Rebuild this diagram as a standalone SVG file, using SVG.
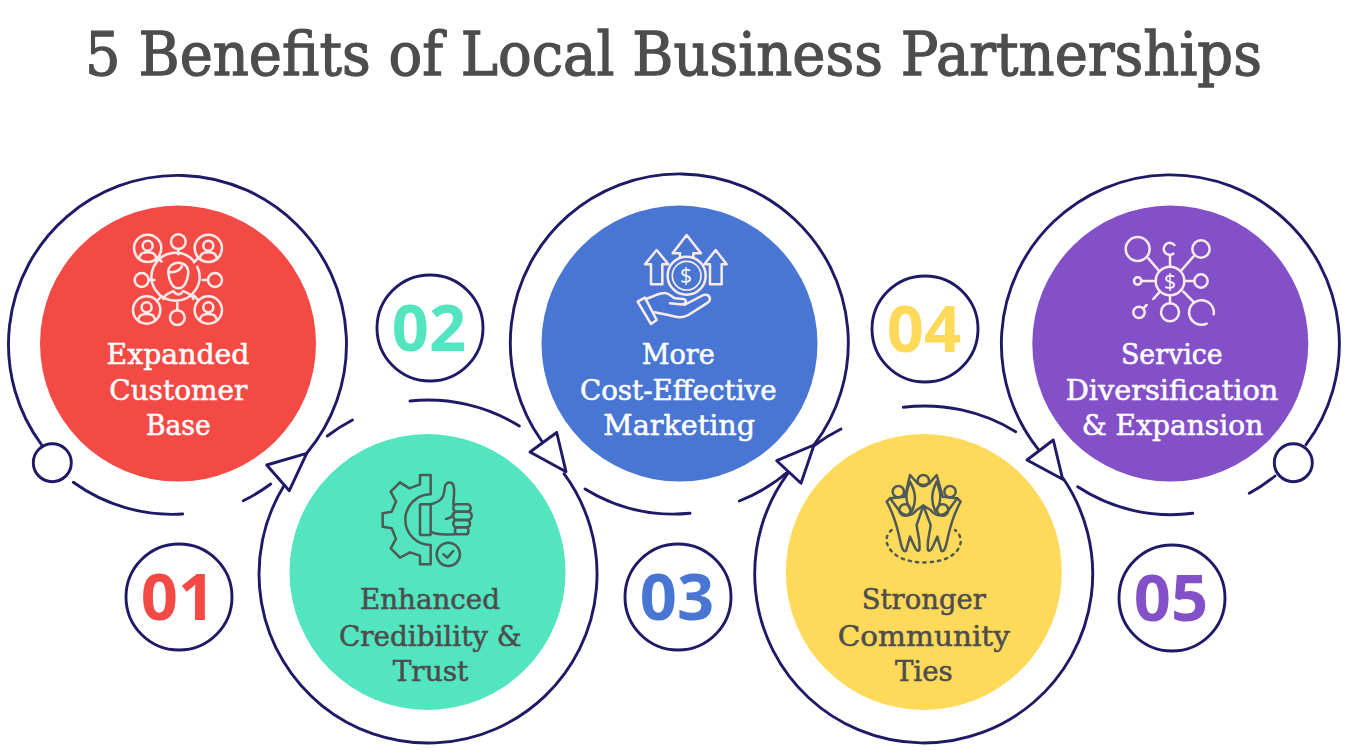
<svg xmlns="http://www.w3.org/2000/svg" width="1364" height="753" viewBox="0 0 1364 753">
<style>
.title{font-family:"DejaVu Serif","Liberation Serif",serif;font-size:60px;fill:#4d4d4d;stroke:#4d4d4d;stroke-width:1.3}
.lb{font-family:"DejaVu Serif","Liberation Serif",serif;font-size:28px;text-anchor:middle;stroke-width:.55}
.w{fill:#fff;stroke:#fff}.d{fill:#4d4d4d;stroke:#4d4d4d}
.num{font-family:"Open Sans","Noto Sans",sans-serif;font-weight:700;font-size:65px;text-anchor:middle}
.rg{fill:none;stroke:#1f1a66;stroke-width:2.9;stroke-linecap:round}
.tri{fill:#fff;stroke:#1f1a66;stroke-width:2.9;stroke-linejoin:round}
.nc{fill:#fff;stroke:#1f1a66;stroke-width:2.9}
.iw{fill:none;stroke:#fbecea;stroke-width:7.5;stroke-linecap:round;stroke-linejoin:round}
.id{fill:none;stroke:#4d5a55;stroke-width:7.5;stroke-linecap:round;stroke-linejoin:round}
.ds{font-family:"Open Sans",sans-serif;font-size:21px;text-anchor:middle;fill:#fff}
</style>
<text class="title" x="85" y="75" textLength="1177" lengthAdjust="spacingAndGlyphs">5 Benefits of Local Business Partnerships</text>

<g id="connectors" class="rg">
<path d="M41.7 445A169 169 0 1 1 306.7 453.3"/>
<path d="M73.3 482.3A169 169 0 0 0 182.7 514"/>
<path d="M243.3 500.7A169 169 0 0 0 270.7 484"/>
<path d="M284.1 485.5A169 169 0 1 0 564 473.7"/>
<path d="M327.3 436A169 169 0 0 1 352.5 420"/>
<path d="M410 401A174 174 0 0 1 519.3 426"/>
<path d="M541.7 441A169 169 0 1 1 814 445"/>
<path d="M585 489A170 170 0 0 0 690 513.3"/>
<path d="M739.3 501A169 169 0 0 0 790 470"/>
<path d="M787.5 473.9A169 169 0 1 0 1063.4 478.8"/>
<path d="M815 445A169 169 0 0 1 841 429"/>
<path d="M903.3 407.3A174 174 0 0 1 1015.7 431.7"/>
<path d="M1038.3 449.3A169 169 0 1 1 1306 444.7"/>
<path d="M1077.7 486.7A170 170 0 0 0 1192.7 513.3"/>
<path d="M1249.3 493.3A169 169 0 0 0 1275 476"/>
<polygon class="tri" points="306.7,453.3 266.7,465 289.3,490.7"/>
<polygon class="tri" points="556.7,432.5 530,452 566,471.7"/>
<polygon class="tri" points="814,445 776.7,460.7 801,483.3"/>
<polygon class="tri" points="1053.3,440 1027,460 1062.7,479.3"/>
<circle class="nc" cx="52.3" cy="462.7" r="19"/>
<circle class="nc" cx="1293.3" cy="462.7" r="19"/>
</g>

<g id="node-1">
<circle cx="178" cy="343.6" r="138" fill="#f44a45"/>
<g class="iw" transform="translate(120 225) scale(.3333)">
<path d="M221 108A72 72 0 1 0 232 125"/>
<circle cx="175" cy="50" r="22"/><path d="M175 72V88"/>
<circle cx="65" cy="165" r="21"/><path d="M86 165H103"/>
<circle cx="285" cy="165" r="21"/><path d="M264 165H248"/>
<circle cx="172" cy="278" r="22"/><path d="M172 256V234"/>
<circle cx="83" cy="70" r="41"/><circle cx="265" cy="70" r="41"/><circle cx="80" cy="255" r="41"/><circle cx="265" cy="255" r="41"/>
<path d="M112 98L125 110M236 98L222 112M112 226L125 214M235 226L222 212"/>
<circle cx="83" cy="62" r="15"/><path d="M58 98C60 84 72 82 83 82S106 84 108 98"/>
<circle cx="265" cy="62" r="15"/><path d="M240 98C242 84 254 82 265 82S288 84 290 98"/>
<circle cx="80" cy="247" r="15"/><path d="M55 283C57 269 69 267 80 267S103 269 105 283"/>
<circle cx="265" cy="247" r="15"/><path d="M240 283C242 269 254 267 265 267S288 269 290 283"/>
<path d="M146 150C140 120 165 112 180 114C198 116 208 130 204 150C202 170 192 190 175 190C158 190 148 170 146 150ZM150 142C165 142 180 135 186 124"/>
<path d="M130 222C135 205 150 205 160 198C168 212 182 212 190 198C200 205 215 205 220 222"/>
</g>
<text class="lb w" x="178" y="364.3" textLength="143" lengthAdjust="spacingAndGlyphs">Expanded</text>
<text class="lb w" x="178.3" y="400" textLength="138" lengthAdjust="spacingAndGlyphs">Customer</text>
<text class="lb w" x="178.3" y="435" textLength="64.7" lengthAdjust="spacingAndGlyphs">Base</text>
<circle class="nc" cx="179" cy="597" r="53"/>
<text class="num" x="178" y="620" fill="#f44a45">01</text>
</g>

<g id="node-2">
<circle cx="427.5" cy="572" r="138" fill="#52e5bf"/>
<g class="id" transform="translate(370 465) scale(.3333)">
<path d="M182 30H150V58L118 70L90 52L62 80L78 110L65 140L38 145V185L65 190L78 222L62 250L90 278L120 262L150 272V298H182V240A76 76 0 0 1 182 88Z"/>
<rect x="150" y="118" width="32" height="92" rx="4"/>
<path d="M182 118C205 112 222 105 224 70C226 48 250 45 252 70C254 90 250 105 250 118"/>
<rect x="250" y="118" width="52" height="22" rx="10"/><rect x="250" y="140" width="55" height="25" rx="11"/><rect x="250" y="165" width="50" height="22" rx="10"/><rect x="255" y="187" width="40" height="21" rx="8"/>
<path d="M182 200C200 212 230 208 255 208M250 145C248 155 240 160 228 162"/>
<circle cx="235" cy="268" r="35"/><path d="M220 268L232 278L250 258"/>
</g>
<text class="lb d" x="430" y="609.3" textLength="140" lengthAdjust="spacingAndGlyphs">Enhanced</text>
<text class="lb d" x="430.3" y="645.7" textLength="182.7" lengthAdjust="spacingAndGlyphs">Credibility &amp;</text>
<text class="lb d" x="430.5" y="681" textLength="75.7" lengthAdjust="spacingAndGlyphs">Trust</text>
<circle class="nc" cx="430" cy="328" r="53"/>
<text class="num" x="429" y="351" fill="#52e5bf">02</text>
</g>

<g id="node-3">
<circle cx="679.5" cy="343.6" r="138" fill="#4876d2"/>
<g class="iw" transform="translate(625 225) scale(.3333)">
<circle cx="185" cy="152" r="57"/>
<path d="M165 97V85H143L185 30L228 85H205V97"/>
<path d="M130 118H112V178H78V118H60L95 75Z"/>
<path d="M238 118H255V178H290V118H305L272 75Z"/>
<path d="M38 230L60 218L95 285L78 297Z"/>
<path d="M62 222C85 215 110 200 125 205C135 208 145 218 150 220L175 222C190 225 182 240 165 238L135 235M178 240L235 210C255 205 262 225 245 235L190 270C170 282 150 275 130 270L88 262"/>
<circle cx="185" cy="152" r="43" stroke-width="5"/>
</g>
<text class="ds" x="686" y="283">$</text>
<text class="lb w" x="678.3" y="364.3" textLength="73.3" lengthAdjust="spacingAndGlyphs">More</text>
<text class="lb w" x="678.3" y="400" textLength="196.7" lengthAdjust="spacingAndGlyphs">Cost-Effective</text>
<text class="lb w" x="679.2" y="435" textLength="151.7" lengthAdjust="spacingAndGlyphs">Marketing</text>
<circle class="nc" cx="678" cy="597" r="53"/>
<text class="num" x="677" y="620" fill="#4876d2">03</text>
</g>

<g id="node-4">
<circle cx="923.8" cy="572" r="138" fill="#ffd95a"/>
<g class="id" transform="translate(870 465) scale(.3333)">
<circle cx="85" cy="80" r="17"/><circle cx="160" cy="47" r="17"/><circle cx="240" cy="80" r="17"/><circle cx="105" cy="135" r="17"/><circle cx="218" cy="135" r="17"/>
<path d="M50 110L60 100L90 140C105 155 125 155 140 135L160 122L140 180C142 205 152 225 148 255C140 262 135 250 120 215L108 258C100 262 95 250 88 215C80 180 70 145 50 110Z"/>
<path d="M272 110L262 100L232 140C217 155 197 155 182 135L160 122L182 180C180 205 170 225 174 255C182 262 187 250 202 215L214 258C222 262 227 250 234 215C242 180 252 145 272 110Z"/>
<path d="M60 100L105 95L120 30L143 55C155 62 165 62 178 55L200 30L218 95L262 100"/>
<path d="M120 50C110 75 100 105 125 140C138 115 140 85 120 50ZM200 50C210 75 220 105 197 140C184 115 182 85 200 50Z"/>
<path d="M65 195C40 215 45 250 85 275C125 298 200 298 240 275C280 250 280 215 255 195" stroke-dasharray="7 15"/>
</g>
<text class="lb d" x="923.8" y="609.3" textLength="124" lengthAdjust="spacingAndGlyphs">Stronger</text>
<text class="lb d" x="923.8" y="645.7" textLength="172" lengthAdjust="spacingAndGlyphs">Community</text>
<text class="lb d" x="923.8" y="681" textLength="57.7" lengthAdjust="spacingAndGlyphs">Ties</text>
<circle class="nc" cx="925" cy="329" r="53"/>
<text class="num" x="924" y="352" fill="#ffd95a">04</text>
</g>

<g id="node-5">
<circle cx="1170.3" cy="343.6" r="138" fill="#8450c8"/>
<g class="iw" transform="translate(1115 225) scale(.3333)">
<circle cx="165" cy="168" r="43"/>
<circle cx="68" cy="72" r="36"/><path d="M178 60A18 18 0 1 0 175 86"/><circle cx="258" cy="72" r="26"/><circle cx="258" cy="168" r="20"/><circle cx="68" cy="168" r="11"/><circle cx="72" cy="262" r="17"/><circle cx="165" cy="262" r="27"/>
<path d="M296 268A37 37 0 1 0 275 296"/>
<path d="M100 100L130 135M165 95V125M235 95L200 135M208 168H238M80 168H122M135 200L115 222M95 240L85 250M165 212V235M205 200L235 230"/>
</g>
<text class="ds" x="1170" y="289">$</text>
<text class="lb w" x="1171.8" y="364.3" textLength="101.7" lengthAdjust="spacingAndGlyphs">Service</text>
<text class="lb w" x="1172" y="400" textLength="212.7" lengthAdjust="spacingAndGlyphs">Diversification</text>
<text class="lb w" x="1172.5" y="435" textLength="181.7" lengthAdjust="spacingAndGlyphs">&amp; Expansion</text>
<circle class="nc" cx="1172" cy="598" r="53"/>
<text class="num" x="1171" y="621" fill="#8450c8">05</text>
</g>
</svg>
